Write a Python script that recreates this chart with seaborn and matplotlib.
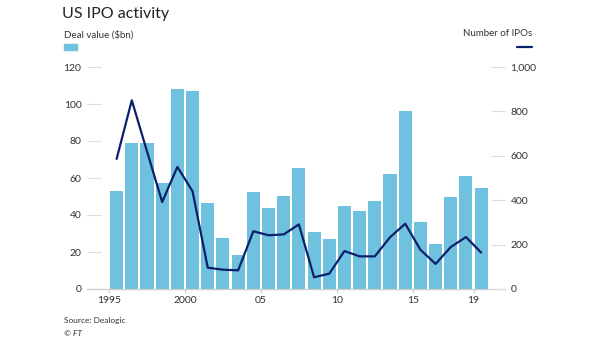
import matplotlib
matplotlib.use("Agg")
import matplotlib.pyplot as plt
import seaborn as sns
import numpy as np
import pandas as pd

years = list(range(1995, 2020))
deal_value = [53.2, 78.9, 78.9, 57.1, 108.1, 106.8, 46.7, 27.4, 18.6, 52.6,
              43.6, 50.5, 65.6, 30.8, 27.2, 44.7, 42.0, 47.4, 62.0, 96.2,
              36.4, 24.3, 49.7, 60.9, 54.6]
num_ipos = [586, 850, 620, 392, 550, 440, 96, 87, 84, 260,
            242, 246, 291, 53, 69, 171, 147, 147, 233, 294,
            177, 113, 189, 234, 164]
xtick_pos = [1995, 2000, 2005, 2010, 2015, 2019]
xtick_labels = ["1995", "2000", "05", "10", "15", "19"]
left_ticks = [0, 20, 40, 60, 80, 100, 120]
right_ticks = [0, 200, 400, 600, 800, 1000]
right_labels = ["0", "200", "400", "600", "800", "1,000"]

bar_color = "#6fc2df"
line_color = "#0b1f6b"
text_color = "#333333"
tick_color = "#dddddd"

sns.set_theme(style="white")
plt.rcParams['font.family'] = ['Lato', 'DejaVu Sans']

df = pd.DataFrame({"x": np.array(years) + 0.5, "value": deal_value, "ipos": num_ipos})

fig = plt.figure(figsize=(6.05, 3.41), dpi=100)
ax = fig.add_axes([87/605, 1 - 289/341, (505-87)/605, (289-67)/341])

sns.barplot(data=df, x="x", y="value", native_scale=True, color=bar_color,
            saturation=1, width=0.86, ax=ax, edgecolor="none")
ax.set_xlim(1993.55, 2021.07)
ax.set_ylim(0, 120)

ax2 = ax.twinx()
sns.lineplot(data=df, x="x", y="ipos", color=line_color, linewidth=1.6, ax=ax2)
ax2.set_ylim(0, 1000)
ax2.set_xlim(1993.55, 2021.07)

for a in (ax, ax2):
    for s in a.spines.values():
        s.set_visible(False)
    a.set_xlabel("")
    a.set_ylabel("")

ax.spines["bottom"].set_visible(True)
ax.spines["bottom"].set_color("#cccccc")
ax.spines["bottom"].set_linewidth(0.9)

ax.set_yticks(left_ticks)
ax.set_yticklabels([str(t) for t in left_ticks])
ax.tick_params(axis="y", direction="in", length=10, width=0.8, color=tick_color,
               labelsize=7.5, labelcolor=text_color, pad=4, left=True)
ax2.set_yticks(right_ticks)
ax2.set_yticklabels(right_labels)
ax2.tick_params(axis="y", direction="in", length=10, width=0.8, color=tick_color,
                labelsize=7.5, labelcolor=text_color, pad=4, right=True)

ax.set_xticks(xtick_pos)
ax.set_xticklabels(xtick_labels)
ax.tick_params(axis="x", direction="out", length=3, width=0.8, color="#cccccc",
               labelsize=7.5, labelcolor=text_color, pad=2, bottom=True)

fig.text(62/605, 1 - 14/341, "US IPO activity", fontsize=11.5, color="#222222",
         va="center", ha="left")
fig.text(64/605, 1 - 35/341, "Deal value ($bn)", fontsize=7, color=text_color,
         va="center", ha="left")
fig.patches.append(plt.Rectangle((64/605, 1 - 50/341), 13/605, 6/341,
                                 transform=fig.transFigure, color=bar_color))
fig.text(532/605, 1 - 34/341, "Number of IPOs", fontsize=7, color=text_color,
         va="center", ha="right")
fig.lines.append(plt.Line2D([517/605, 532/605], [1 - 47/341, 1 - 47/341],
                            transform=fig.transFigure, color=line_color, linewidth=1.6))
fig.text(64/605, 1 - 321/341, "Source: Dealogic", fontsize=6, color=text_color,
         va="center", ha="left")
fig.text(64/605, 1 - 333/341, "© FT", fontsize=6, color=text_color,
         va="center", ha="left", style="italic")

fig.savefig("out.png", dpi=100)
